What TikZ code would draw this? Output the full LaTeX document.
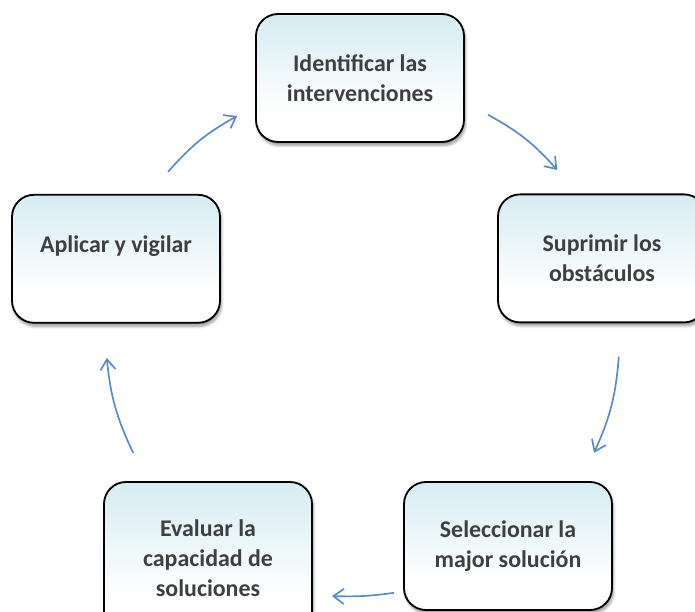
\documentclass[tikz,border=0pt]{standalone}
\usepackage{fontspec}
\setmainfont{Carlito}
\usepackage{tikz}
\usetikzlibrary{arrows.meta,shadows.blur}

\definecolor{boxtop}{HTML}{D6ECF2}
\definecolor{boxtext}{HTML}{3F3F3F}
\definecolor{flecha}{HTML}{5B8AC6}
\pgfdeclareverticalshading{pasoshade}{100bp}{color(0bp)=(white); color(37bp)=(white);
  color(75bp)=(boxtop); color(100bp)=(boxtop)}

\tikzset{
  paso/.style={draw=black, line width=1.3pt, rounded corners=0.55cm,
    shading=pasoshade, minimum width=5.2cm, minimum height=3.2cm,
    align=center, font=\fontsize{17}{21.5}\selectfont\bfseries,
    text=boxtext, blur shadow={shadow xshift=1pt, shadow yshift=-2.5pt, shadow blur steps=6}},
  ciclo/.style={draw=flecha, line width=1.2pt, -{Straight Barb[length=2.6mm,width=3.8mm]}}
}

\begin{document}
\begin{tikzpicture}
        \useasboundingbox (0,0) rectangle (17.375,15.3);               %
        \node [paso] (ident) at (9.0,13.35)   {Identificar las\\intervenciones};   %paso 1
        \node [paso] (supr)  at (15.05,8.84)  {Suprimir los\\obst\'aculos};        %paso 2
        \node [paso] (selec) at (12.7,1.65)   {Seleccionar la\\major soluci\'on};  %paso 3
        \node [paso, minimum height=3.8cm] (eval) at (5.2,1.35) {Evaluar la\\capacidad de\\soluciones}; %paso 4
        \node [paso] (aplic) at (2.9,8.83)    {Aplicar y vigilar\\\mbox{}};       %paso 5
        \coordinate (a1s) at (12.2,12.43);  \coordinate (a1e) at (13.93,11.05);  %
        \coordinate (a2s) at (15.47,6.38);  \coordinate (a2e) at (14.85,3.98);   %
        \coordinate (a3s) at (9.85,0.48);   \coordinate (a3e) at (8.3,0.4);      %
        \coordinate (a4s) at (3.33,3.98);   \coordinate (a4e) at (2.67,6.35);    %
        \coordinate (a5s) at (4.2,11.0);    \coordinate (a5e) at (5.93,12.4);    %
        \draw [ciclo] (a1s) to[bend left=10] (a1e);                      %
        \draw [ciclo] (a2s) to[bend left=10] (a2e);                      %
        \draw [ciclo] (a3s) to[bend left=5]  (a3e);                      %
        \draw [ciclo] (a4s) to[bend left=10] (a4e);                      %
        \draw [ciclo] (a5s) to[bend left=10] (a5e);                      %
\end{tikzpicture}
\end{document}
